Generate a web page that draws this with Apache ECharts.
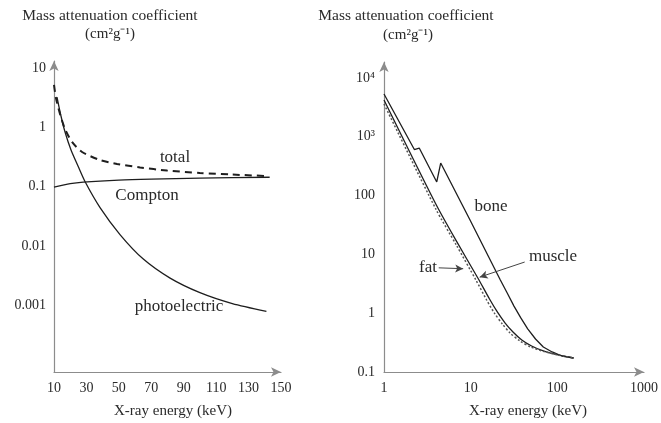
<!DOCTYPE html>
<html>
<head>
<meta charset="utf-8">
<script src="https://cdn.jsdelivr.net/npm/echarts@6/dist/echarts.min.js"></script>
<style>
html,body{margin:0;padding:0;background:#fff;}
#chart{width:661px;height:423px;}
</style>
</head>
<body>
<div id="chart"></div>
<script>
// ---------- Left panel data (X-ray energy keV vs mass attenuation coefficient) ----------
const leftXTicks = [10, 30, 50, 70, 90, 110, 130, 150];
const leftYTickLabels = ['0.001', '0.01', '0.1', '1', '10'];
const totalE = [10, 11.2, 13.7, 16.8, 21.1, 27.3, 38.4, 48.9, 63.1, 79.7, 100, 120, 141];
const totalV = [5.2, 3.14, 1.69, 0.94, 0.57, 0.386, 0.283, 0.243, 0.212, 0.188, 0.171, 0.161, 0.152];
const comptonE = [10, 20, 28, 50, 70, 100, 143];
const comptonV = [0.099, 0.113, 0.12, 0.13, 0.135, 0.14, 0.145];
const photoE = [11.85, 14.3, 16.8, 20.5, 24.8, 29.1, 38.4, 50.7, 64.9, 81.6, 100, 120, 141];
const photoV = [3.26, 1.56, 0.84, 0.417, 0.224, 0.123, 0.0447, 0.0157, 0.00613, 0.0029, 0.00165, 0.00108, 0.00080];

// ---------- Right panel data ----------
const rightXTickLabels = ['1', '10', '100', '1000'];
const rightYTickLabels = ['0.1', '1', '10', '100', '10\u00b3', '10\u2074'];
const boneE = [1, 2.24, 2.55, 4.06, 4.51, 9.83, 22.0, 26.4, 31.6, 37.9, 45.5, 56.0, 68.9, 87.1, 113, 154];
const boneV = [5320, 605, 642, 170, 357, 38.4, 3.66, 2.2, 1.32, 0.83, 0.54, 0.364, 0.266, 0.219, 0.187, 0.173];
const muscleE = [1, 3.96, 6.83, 12.1, 16.5, 20.3, 25.0, 30.8, 38.9, 50.5, 68.9, 101.7, 154];
const muscleV = [4210, 71.8, 16.9, 3.96, 1.74, 1.05, 0.68, 0.479, 0.35, 0.277, 0.228, 0.195, 0.173];
const fatE = [1, 3.96, 6.83, 11.5, 15.3, 18.8, 23.2, 28.5, 37.0, 49.2, 68.9, 101.7, 154];
const fatV = [3600, 59, 14.4, 3.66, 1.67, 1.0, 0.655, 0.46, 0.337, 0.266, 0.224, 0.195, 0.173];
// annotation arrows (data space)
const fatArrow = [[4.28, 5.9], [8.2, 5.7]];
const muscleArrow = [[42, 7.4], [12.7, 4.1]];

const pairs = (xs, ys) => xs.map((x, i) => [x, ys[i]]);
const FONT = "'Liberation Serif', 'Times New Roman', serif";
const TXT = '#2a2a2a';
const LINE = '#1e1e1e';
const AX = '#8c8c8c';

function decadeLabel(labels, lowExp) {
  return function (v) {
    const l = Math.log10(v);
    const n = Math.round(l);
    if (Math.abs(l - n) > 1e-6) return '';
    const idx = n - lowExp;
    return (idx >= 0 && idx < labels.length) ? labels[idx] : '';
  };
}

const axisLineStyle = {
  show: true,
  symbol: ['none', 'arrow'],
  symbolSize: [7, 10],
  lineStyle: { color: AX, width: 1.2 }
};
const labelStyle = { color: TXT, fontFamily: FONT, fontSize: 14 };

function txt(x, y, text, size) {
  return { type: 'text', x: x, y: y, style: { text: text, fill: TXT, font: size + 'px ' + FONT, textAlign: 'center', textVerticalAlign: 'middle' } };
}

const chart = echarts.init(document.getElementById('chart'), null, { renderer: 'canvas' });
chart.setOption({
  backgroundColor: '#ffffff',
  animation: false,
  grid: [
    { left: 54, top: 61, width: 227, height: 311 },
    { left: 384, top: 62, width: 266, height: 310 }
  ],
  xAxis: [
    {
      type: 'value', gridIndex: 0, min: leftXTicks[0], max: leftXTicks[leftXTicks.length - 1],
      interval: 20,
      axisLine: axisLineStyle, axisTick: { show: false }, splitLine: { show: false },
      axisLabel: Object.assign({ margin: 9 }, labelStyle)
    },
    {
      type: 'log', gridIndex: 1, logBase: 10, min: 1, max: 1000,
      axisLine: axisLineStyle, axisTick: { show: false }, splitLine: { show: false }, minorTick: { show: false },
      axisLabel: Object.assign({ margin: 9, formatter: decadeLabel(rightXTickLabels, 0) }, labelStyle)
    }
  ],
  yAxis: [
    {
      type: 'log', gridIndex: 0, logBase: 10, min: Math.pow(10, -4.12), max: Math.pow(10, 1.12),
      axisLine: axisLineStyle, axisTick: { show: false }, splitLine: { show: false }, minorTick: { show: false },
      axisLabel: Object.assign({ margin: 8, formatter: decadeLabel(leftYTickLabels, -3) }, labelStyle)
    },
    {
      type: 'log', gridIndex: 1, logBase: 10, min: 0.1, max: Math.pow(10, 4.27),
      axisLine: axisLineStyle, axisTick: { show: false }, splitLine: { show: false }, minorTick: { show: false },
      axisLabel: Object.assign({ margin: 9, formatter: decadeLabel(rightYTickLabels, -1) }, labelStyle)
    }
  ],
  series: [
    {
      name: 'total', type: 'line', xAxisIndex: 0, yAxisIndex: 0, data: pairs(totalE, totalV),
      smooth: 0.25, symbol: 'none', lineStyle: { color: LINE, width: 2, type: [7, 5] }
    },
    {
      name: 'Compton', type: 'line', xAxisIndex: 0, yAxisIndex: 0, data: pairs(comptonE, comptonV),
      smooth: 0.25, symbol: 'none', lineStyle: { color: LINE, width: 1.3 }
    },
    {
      name: 'photoelectric', type: 'line', xAxisIndex: 0, yAxisIndex: 0, data: pairs(photoE, photoV),
      smooth: 0.25, symbol: 'none', lineStyle: { color: LINE, width: 1.3 }
    },
    {
      name: 'bone', type: 'line', xAxisIndex: 1, yAxisIndex: 1, data: pairs(boneE, boneV),
      smooth: false, symbol: 'none', lineStyle: { color: LINE, width: 1.3 }
    },
    {
      name: 'muscle', type: 'line', xAxisIndex: 1, yAxisIndex: 1, data: pairs(muscleE, muscleV),
      smooth: 0.25, symbol: 'none', lineStyle: { color: LINE, width: 1.3 },
      markLine: {
        silent: true, symbol: ['none', 'arrow'], symbolSize: [6, 8],
        label: { show: false },
        lineStyle: { color: '#444', width: 1, type: 'solid' },
        data: [
          [{ coord: fatArrow[0] }, { coord: fatArrow[1] }],
          [{ coord: muscleArrow[0] }, { coord: muscleArrow[1] }]
        ]
      }
    },
    {
      name: 'fat', type: 'line', xAxisIndex: 1, yAxisIndex: 1, data: pairs(fatE, fatV),
      smooth: 0.25, symbol: 'none', lineStyle: { color: '#555', width: 1.5, type: [2, 2] }
    }
  ],
  graphic: [
    txt(110, 16, 'Mass attenuation coefficient', 15.5),
    txt(110, 34, '(cm\u00b2g\u207b\u00b9)', 15),
    txt(406, 16, 'Mass attenuation coefficient', 15.5),
    txt(408, 35, '(cm\u00b2g\u207b\u00b9)', 15),
    txt(173, 411, 'X-ray energy (keV)', 15),
    txt(528, 411, 'X-ray energy (keV)', 15),
    txt(175, 158, 'total', 17),
    txt(147, 196, 'Compton', 17),
    txt(179, 307, 'photoelectric', 17),
    txt(491, 207, 'bone', 17),
    txt(553, 257, 'muscle', 17),
    txt(428, 268, 'fat', 17)
  ]
});
</script>
</body>
</html>
